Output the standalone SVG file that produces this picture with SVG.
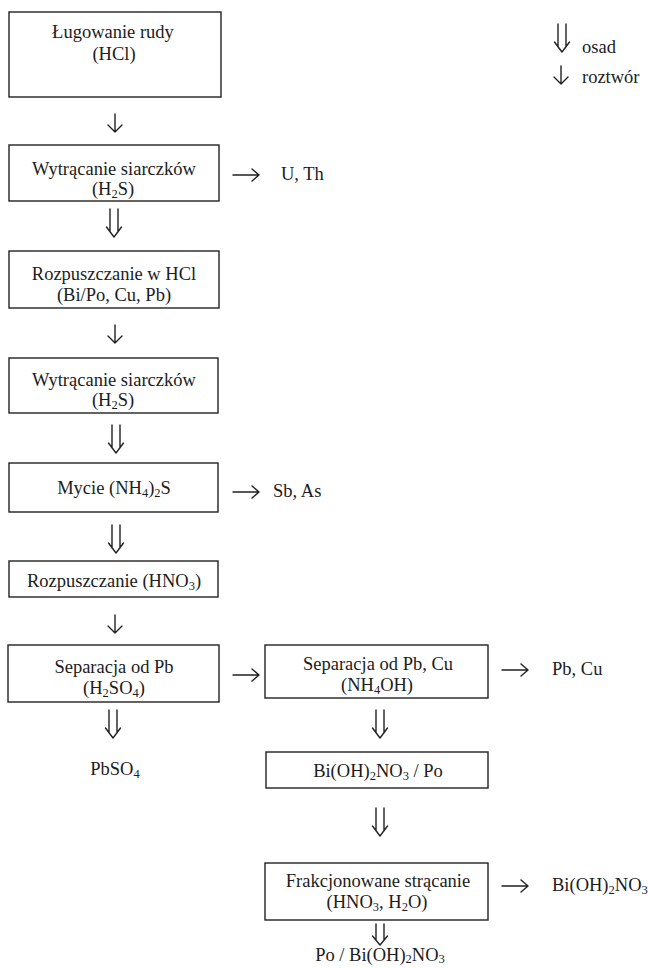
<svg xmlns="http://www.w3.org/2000/svg" xmlns:xlink="http://www.w3.org/1999/xlink" width="648" height="968" viewBox="0 0 648 968">
<style>
text{font-family:"Liberation Serif","Times New Roman",serif;font-size:18.5px;fill:#1c1c1c}
.c{text-anchor:middle}
.s{font-size:12.5px}
.box{fill:none;stroke:#222;stroke-width:1.4}
.ar{fill:none;stroke:#222;stroke-width:1.4;stroke-linecap:round;stroke-linejoin:round}
</style>
<defs>
<path id="sd" class="ar" d="M0,0 V18 M-7,11 L0,18 L7,11"/>
<path id="dd" class="ar" d="M-4,0 V23 M4,0 V23 M-7.5,18 L0,28 L7.5,18"/>
<path id="ra" class="ar" d="M0,0 H26 M19,-6 L26,0 L19,6"/>
</defs>
<rect width="648" height="968" fill="#fff"/>

<g id="legend">
<use xlink:href="#dd" x="562" y="24"/>
<text x="582" y="53">osad</text>
<use xlink:href="#sd" x="561" y="66"/>
<text x="582" y="83">roztwór</text>
</g>

<g id="n1">
<rect class="box" x="9" y="12" width="212" height="85"/>
<text class="c" x="113" y="38">Ługowanie rudy</text>
<text class="c" x="114" y="60">(HCl)</text>
</g>
<g id="n2">
<rect class="box" x="9" y="145" width="210" height="56"/>
<text class="c" x="114" y="175">Wytrącanie siarczków</text>
<text class="c" x="113" y="195">(H<tspan class="s" dy="3">2</tspan><tspan dy="-3">S)</tspan></text>
</g>
<g id="o1"><text x="281" y="180">U, Th</text></g>
<g id="n3">
<rect class="box" x="9" y="251" width="210" height="57"/>
<text class="c" x="114" y="280">Rozpuszczanie w HCl</text>
<text class="c" x="114" y="301">(Bi/Po, Cu, Pb)</text>
</g>
<g id="n4">
<rect class="box" x="9" y="358" width="209" height="55"/>
<text class="c" x="114" y="386">Wytrącanie siarczków</text>
<text class="c" x="113" y="406">(H<tspan class="s" dy="3">2</tspan><tspan dy="-3">S)</tspan></text>
</g>
<g id="n5">
<rect class="box" x="9" y="463" width="209" height="49"/>
<text class="c" x="114" y="494">Mycie (NH<tspan class="s" dy="3">4</tspan><tspan dy="-3">)</tspan><tspan class="s" dy="3">2</tspan><tspan dy="-3">S</tspan></text>
</g>
<g id="o2"><text x="273" y="497">Sb, As</text></g>
<g id="n6">
<rect class="box" x="9" y="561" width="209" height="36"/>
<text class="c" x="114" y="587">Rozpuszczanie (HNO<tspan class="s" dy="3">3</tspan><tspan dy="-3">)</tspan></text>
</g>
<g id="n7">
<rect class="box" x="8" y="645" width="211" height="57"/>
<text class="c" x="114" y="673">Separacja od Pb</text>
<text class="c" x="114" y="694">(H<tspan class="s" dy="3">2</tspan><tspan dy="-3">SO</tspan><tspan class="s" dy="3">4</tspan><tspan dy="-3">)</tspan></text>
</g>
<g id="o3"><text class="c" x="115" y="775">PbSO<tspan class="s" dy="3">4</tspan></text></g>
<g id="n8">
<rect class="box" x="265" y="645" width="223" height="53"/>
<text class="c" x="378" y="670">Separacja od Pb, Cu</text>
<text class="c" x="377" y="691">(NH<tspan class="s" dy="3">4</tspan><tspan dy="-3">OH)</tspan></text>
</g>
<g id="o4"><text x="552" y="675">Pb, Cu</text></g>
<g id="n9">
<rect class="box" x="266" y="752" width="222" height="36"/>
<text class="c" x="378" y="777">Bi(OH)<tspan class="s" dy="3">2</tspan><tspan dy="-3">NO</tspan><tspan class="s" dy="3">3</tspan><tspan dy="-3"> / Po</tspan></text>
</g>
<g id="n10">
<rect class="box" x="265" y="863" width="223" height="57"/>
<text class="c" x="378" y="887">Frakcjonowane strącanie</text>
<text class="c" x="377" y="908">(HNO<tspan class="s" dy="3">3</tspan><tspan dy="-3">, H</tspan><tspan class="s" dy="3">2</tspan><tspan dy="-3">O)</tspan></text>
</g>
<g id="o5"><text x="552" y="891">Bi(OH)<tspan class="s" dy="3">2</tspan><tspan dy="-3">NO</tspan><tspan class="s" dy="3">3</tspan></text></g>
<g id="o6"><text class="c" x="380" y="961">Po / Bi(OH)<tspan class="s" dy="2">2</tspan><tspan dy="-2">NO</tspan><tspan class="s" dy="2">3</tspan></text></g>

<g id="connectors">
<use xlink:href="#sd" x="115" y="114"/>
<use xlink:href="#ra" x="233" y="175"/>
<use xlink:href="#dd" x="114" y="209"/>
<use xlink:href="#sd" x="115" y="325"/>
<use xlink:href="#dd" x="116" y="425"/>
<use xlink:href="#ra" x="233" y="492"/>
<use xlink:href="#dd" x="116" y="525"/>
<use xlink:href="#sd" x="115" y="615"/>
<use xlink:href="#ra" x="233" y="675"/>
<use xlink:href="#dd" x="113" y="710"/>
<use xlink:href="#ra" x="502" y="670"/>
<use xlink:href="#dd" x="380" y="710"/>
<use xlink:href="#dd" x="380" y="808"/>
<use xlink:href="#ra" x="502" y="886"/>
<path class="ar" d="M376,924 V940 M384,924 V940 M372.5,936 L380,945 L387.5,936"/>
</g>
</svg>
